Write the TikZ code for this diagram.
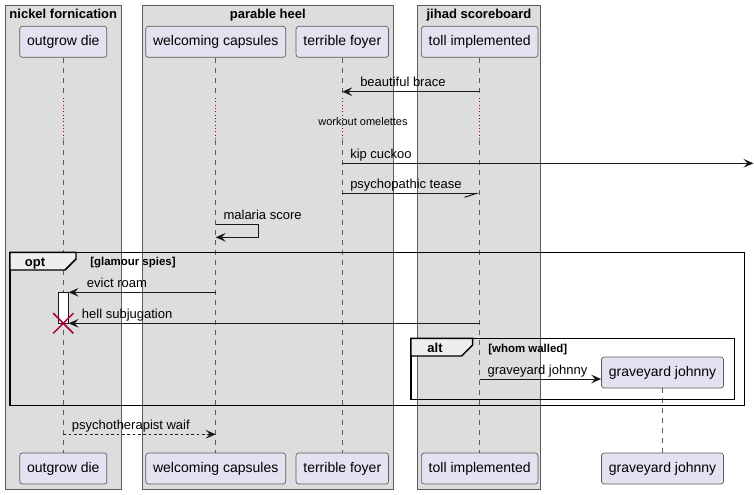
\documentclass[tikz,border=0pt]{standalone}
\usepackage{fontspec}
\setmainfont{Liberation Sans}
\usepackage{xcolor}
\usetikzlibrary{arrows.meta, shapes.misc, calc}
\definecolor{umlbox}{HTML}{DDDDDD}
\definecolor{umlpart}{HTML}{E2E2F0}
\definecolor{umlline}{HTML}{181818}
\definecolor{umledge}{HTML}{5B5B5B}
\definecolor{umlred}{HTML}{A80036}
\definecolor{umltab}{HTML}{EEEEEE}

\begin{document}
\begin{tikzpicture}[x=0.75pt, y=-0.75pt,
  grp/.style={draw=umledge, fill=umlbox, line width=0.5pt},
  grptitle/.style={font=\fontsize{9.75}{12}\selectfont\bfseries, anchor=base, inner sep=0pt},
  part/.style={draw=umledge, fill=umlpart, rounded corners=2pt, line width=0.5pt,
    minimum height=23.25pt, inner xsep=5.5pt, font=\fontsize{10.5}{12}\selectfont},
  act/.style={draw=umlline, fill=white, line width=0.5pt, minimum width=7.5pt,
    minimum height=23.25pt, inner sep=0pt},
  life/.style={draw=umledge, line width=0.5pt, dash pattern=on 3.75pt off 3.75pt},
  delay/.style={draw=umlred, line width=0.75pt, dash pattern=on 0.75pt off 1.75pt},
  msg/.style={draw=umlline, line width=0.75pt, -{Stealth[length=7.5pt, width=6.5pt, inset=3pt]}},
  ret/.style={msg, dash pattern=on 2pt off 2pt},
  half/.style={draw=umlline, line width=0.75pt, -{Straight Barb[length=9pt, width=6pt, right]}},
  lbl/.style={font=\fontsize{9.75}{12}\selectfont, anchor=base west, inner sep=0pt},
  frame/.style={draw=black, line width=1.1pt},
  tab/.style={draw=black, fill=umltab, line width=1.1pt},
  tabname/.style={font=\fontsize{9.75}{12}\selectfont\bfseries, anchor=base, inner sep=0pt},
  guard/.style={font=\fontsize{8.6}{10}\selectfont\bfseries, anchor=base west, inner sep=0pt}]
  \useasboundingbox (0,0) rectangle (754,494);

  % boxes
  \draw[grp] (5,5) rectangle (121.7,489.3);
  \draw[grp] (142.7,5) rectangle (393,489.3);
  \draw[grp] (417.3,5) rectangle (540.7,489.3);
  \node[grptitle] (nf) at (63.3,18) {nickel fornication};
  \node[grptitle] (ph) at (267.8,18) {parable heel};
  \node[grptitle] (js) at (479,18) {jihad scoreboard};

  % participants
  \node[part] (od) at (63.3,41.8) {outgrow die};
  \node[part] (wc) at (215.7,41.8) {welcoming capsules};
  \node[part] (tf) at (342.3,41.8) {terrible foyer};
  \node[part] (ti) at (479.7,41.8) {toll implemented};
  \node[part] (od-b) at (63.3,468.5) {outgrow die};
  \node[part] (wc-b) at (215.7,468.5) {welcoming capsules};
  \node[part] (tf-b) at (342.3,468.5) {terrible foyer};
  \node[part] (ti-b) at (479.7,468.5) {toll implemented};
  \node[part] (gj-b) at (662.5,468.5) {graveyard johnny};

  % lifelines with delay
  \foreach \p in {od,wc,tf,ti} {
    \draw[life] (\p.south) -- (\p |- 0,98);
    \draw[delay] (\p |- 0,98) -- (\p |- 0,140);
    \draw[life] (\p |- 0,140) -- (\p-b.north);
  }
  \node[font=\fontsize{8.25}{10}\selectfont, anchor=base, inner sep=0pt] (wo) at (363,125) {workout omelettes};

  % messages
  \draw[msg] (ti |- 0,91.7) -- (tf |- 0,91.7);
  \node[lbl] at (360,86.5) {beautiful brace};
  \coordinate (edge) at (753.5,163.3);
  \draw[msg] (tf |- 0,163.3) -- (edge);
  \node[lbl] at (350,158.5) {kip cuckoo};
  \draw[half] (tf |- 0,193.3) -- (ti |- 0,193.3);
  \node[lbl] at (350,188.5) {psychopathic tease};
  \draw[msg] (wc |- 0,224) -- (258.7,224) -- (258.7,237.3) -- (wc |- 0,237.3);
  \node[lbl] at (223.3,219) {malaria score};

  % opt
  \node[act] (odact) at (63.3,307.8) {};
  \draw[msg] (wc |- 0,292.3) -- (odact.east |- 0,292.3);
  \node[lbl] at (86.7,287.5) {evict roam};
  \draw[msg] (ti |- 0,323.3) -- (odact.east |- 0,323.3);
  \node[lbl] at (81.7,318.5) {hell subjugation};
  \node[cross out, draw=umlred, line width=1.1pt, minimum size=14pt, inner sep=0pt] (odx) at (63.3,323.3) {};

  % alt
  \node[part] (gj) at (662.5,372.5) {graveyard johnny};
  \draw[life] (gj.south) -- (gj-b.north);
  \draw[msg] (ti |- 0,379) -- (gj.west |- 0,379);
  \node[lbl] at (487.3,374) {graveyard johnny};

  \draw[ret] (od |- 0,434.3) -- (wc |- 0,434.3);
  \node[lbl] at (71.7,429.5) {psychotherapist waif};

  % frames
  \draw[frame] (10,252.3) rectangle (744.3,405.7);
  \draw[tab] (10,252.3) -- (76,252.3) -- (76,259) -- (65,270) -- (10,270) -- cycle;
  \node[tabname] (opt) at (35,266) {opt};
  \node[guard] (gs) at (90,265) {[glamour spies]};
  \draw[frame] (411,338.3) rectangle (734.3,399.3);
  \draw[tab] (411,338.3) -- (472.7,338.3) -- (472.7,345) -- (461.7,356) -- (411,356) -- cycle;
  \node[tabname] (alt) at (435,352.5) {alt};
  \node[guard] (ww) at (488,352) {[whom walled]};
\end{tikzpicture}
\end{document}
